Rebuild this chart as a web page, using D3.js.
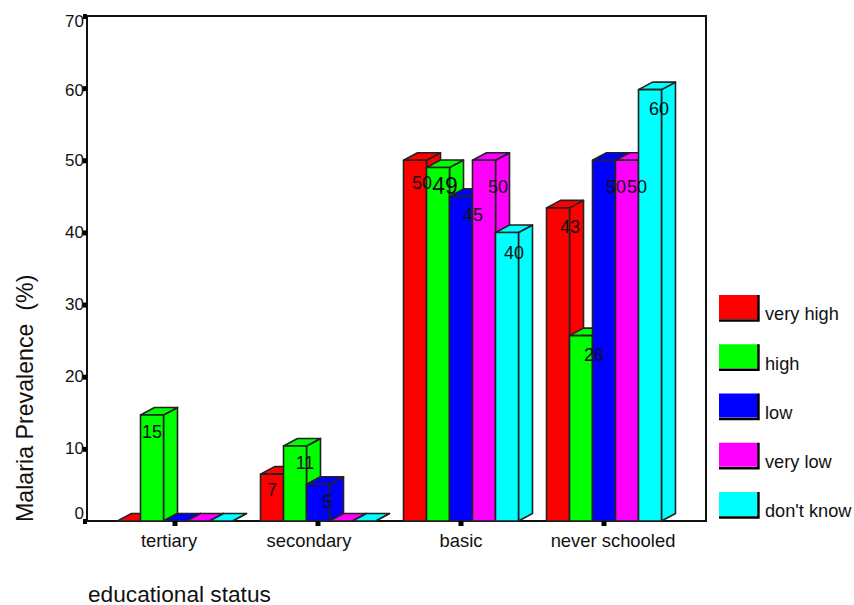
<!DOCTYPE html>
<html>
<head>
<meta charset="utf-8">
<script src="https://cdn.jsdelivr.net/npm/d3@7"></script>
<style>
  body { margin: 0; background: white; overflow: hidden; }
  svg { display: block; }
  text { font-family: "Liberation Sans", Arial, sans-serif; fill: #111; white-space: pre; }
</style>
</head>
<body>
<script>
// values
const categories = ['tertiary', 'secondary', 'basic', 'never schooled'];
const seriesNames = ['very high', 'high', 'low', 'very low', "don't know"];
const colors = ['#ff0000', '#00ff00', '#0000ff', '#ff00ff', '#00ffff'];
const yTicks = [0, 10, 20, 30, 40, 50, 60, 70];

const veryHigh = [0, 6.5, 50, 43.4];
const high = [14.7, 10.4, 49, 25.7];
const low = [0, 5.1, 45, 50];
const veryLow = [0, 0, 50, 50];
const dontKnow = [0, 0, 40, 59.8];
const seriesValues = [veryHigh, high, low, veryLow, dontKnow];

// printed labels, rounded in the original
const veryHighLabels = [null, 7, 50, 43];
const highLabels = [15, 11, 49, 26];
const lowLabels = [null, 5, 45, 50];
const veryLowLabels = [null, null, 50, 50];
const dontKnowLabels = [null, null, 40, 60];
const seriesLabels = [veryHighLabels, highLabels, lowLabels, veryLowLabels, dontKnowLabels];

const svg = d3.select('body').append('svg')
    .attr('width', 854)
    .attr('height', 605);

const y = d3.scaleLinear().domain([0, 70]).range([521, 16]);
const x0 = d3.scaleBand().domain(categories).range([103.5, 675.5]).paddingInner(0.196).paddingOuter(0.098);
const x1 = d3.scaleBand().domain(seriesNames).range([0, x0.bandwidth()]);

const depthX = 14, depthY = 7.5;

// flatten to one record per bar, left to right so later bars cover earlier ones
const bars = [];
categories.forEach((c, i) => {
    seriesNames.forEach((s, j) => {
        bars.push({ category: c, series: s, color: colors[j], value: seriesValues[j][i], label: seriesLabels[j][i] });
    });
});

// plot frame
svg.append('path')
    .attr('d', `M${87},${y(0)}V${y(70)}H${706}V${y(0)}Z`)
    .attr('fill', 'white')
    .attr('stroke', '#111')
    .attr('stroke-width', 2);

const bar = svg.selectAll('g.bar')
    .data(bars)
    .enter()
    .append('g')
    .attr('class', 'bar')
    .attr('transform', d => `translate(${x0(d.category) + x1(d.series)}, 0)`);

const w = x1.bandwidth();

bar.append('path')
    .attr('d', d => `M${w},${y(d.value)}l${depthX},${-depthY}V${y(0) - depthY}L${w},${y(0)}Z`)
    .attr('fill', d => d.color);
bar.append('path')
    .attr('d', d => `M0,${y(d.value)}l${depthX},${-depthY}h${w}l${-depthX},${depthY}Z`)
    .attr('fill', d => d.color);
bar.append('rect')
    .attr('y', d => y(d.value))
    .attr('width', w)
    .attr('height', d => y(0) - y(d.value))
    .attr('fill', d => d.color);
bar.selectAll('path, rect')
    .attr('stroke', '#222')
    .attr('stroke-width', 1.6)
    .attr('stroke-linejoin', 'round');

// axes
const yAxis = svg.append('g')
    .attr('transform', 'translate(87, 0)')
    .call(d3.axisLeft(y).tickValues(yTicks).tickSize(4).tickPadding(-1));
yAxis.select('.domain').remove();
yAxis.selectAll('line').attr('stroke', '#000').attr('stroke-width', 5);
yAxis.selectAll('text')
    .attr('font-size', 17)
    .attr('dy', d => d === 0 ? -3 : d === 70 ? 10 : d === 60 ? 7 : 5);

// the category labels do not sit on their ticks in the original
const tickLabelShift = { 'tertiary': -6, 'secondary': -9, 'basic': 0, 'never schooled': 9 };

const xAxis = svg.append('g')
    .attr('transform', 'translate(0, 521)')
    .call(d3.axisBottom(x0).tickSize(5).tickPadding(8));
xAxis.select('.domain').remove();
xAxis.selectAll('line').attr('stroke', '#000').attr('stroke-width', 5);
xAxis.selectAll('text')
    .attr('font-size', 18.4)
    .attr('dx', d => tickLabelShift[d]);

// value labels are scattered by hand in the original
const labelNudge = {
    'tertiary|high': [0, 17],
    'secondary|very high': [0, 16],
    'secondary|high': [10, 17],
    'secondary|low': [9, 17],
    'basic|very high': [7, 22],
    'basic|high': [7, 18],
    'basic|low': [12, 18],
    'basic|very low': [14, 26],
    'basic|don\'t know': [7, 20],
    'never schooled|very high': [12, 19],
    'never schooled|high': [13, 19],
    'never schooled|low': [12, 26],
    'never schooled|very low': [10, 26],
    'never schooled|don\'t know': [9, 19]
};

svg.selectAll('text.value')
    .data(bars.filter(d => d.label !== null))
    .enter()
    .append('text')
    .attr('class', 'value')
    .attr('x', d => x0(d.category) + x1(d.series) + w / 2 + labelNudge[d.category + '|' + d.series][0])
    .attr('y', d => y(d.value) + labelNudge[d.category + '|' + d.series][1])
    .attr('dy', '0.35em')
    .attr('text-anchor', 'middle')
    .attr('font-size', d => d.label === 49 ? 23 : 18)
    .text(d => d.label);

// legend
const legendY = d3.scalePoint().domain(seriesNames).range([295, 492]);
const legend = svg.selectAll('g.legend')
    .data(seriesNames)
    .enter()
    .append('g')
    .attr('class', 'legend')
    .attr('transform', d => `translate(719, ${legendY(d)})`);

legend.append('rect')
    .attr('width', 39)
    .attr('height', 24)
    .attr('fill', (d, i) => colors[i]);
legend.append('path')
    .attr('d', 'M0,25.5H39.5V0')
    .attr('fill', 'none')
    .attr('stroke', '#000')
    .attr('stroke-width', 2.4);
legend.append('text')
    .attr('x', 46)
    .attr('y', 19)
    .attr('dy', '0.35em')
    .attr('font-size', 18.2)
    .text(d => d);

// titles
svg.append('text')
    .attr('transform', 'translate(33, 522) rotate(-90)')
    .attr('font-size', 23.2)
    .text('Malaria Prevalence  (%)');
svg.append('text')
    .attr('x', 88)
    .attr('y', 602)
    .attr('font-size', 22.7)
    .text('educational status');
</script>
</body>
</html>
